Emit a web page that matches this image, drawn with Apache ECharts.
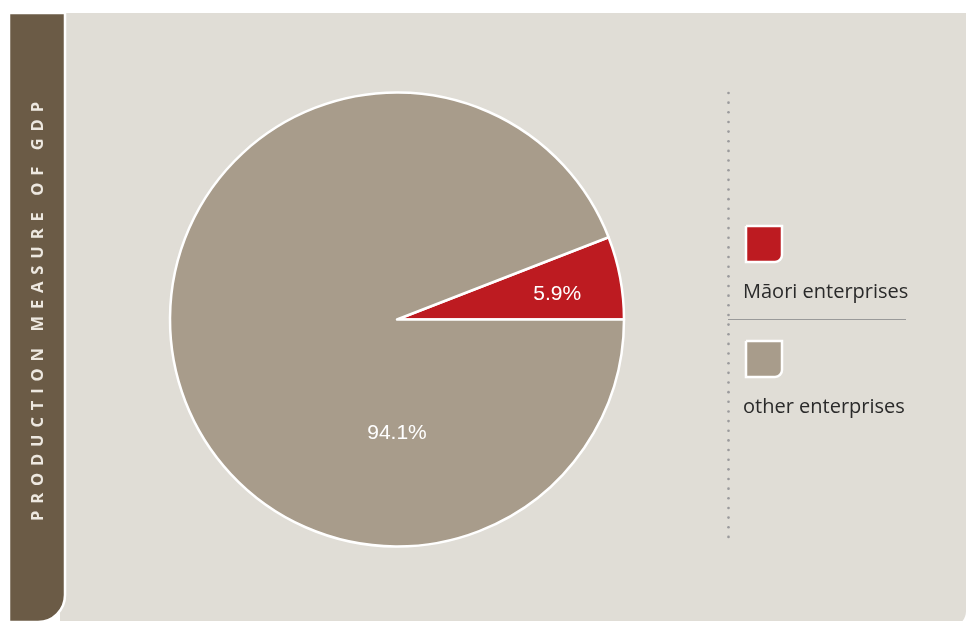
<!DOCTYPE html>
<html><head><meta charset="utf-8">
<script src="https://cdn.jsdelivr.net/npm/echarts@6/dist/echarts.min.js"></script>
<style>html,body{margin:0;padding:0;background:#fff;}#c{width:966px;height:621px;}</style>
</head><body><div id="c"></div>
<script>
// ---- data ----
const categories = ['Māori enterprises', 'other enterprises'];
const values = [5.9, 94.1];
const colors = ['#BD1B21', '#A89C8B'];
const sideTitle = 'PRODUCTION MEASURE OF GDP';

const chart = echarts.init(document.getElementById('c'), null, {renderer: 'canvas'});
const cx = 397, cy = 319.5, R = 227;
const total = values.reduce((a, b) => a + b, 0);
const fmt = v => v.toFixed(1) + '%';
const spaced = sideTitle.split(' ').map(w => w.split('').join('\u2005\u2006')).join('\u2002\u2002');

const pieData = categories.map((n, i) => ({name: n, value: values[i], itemStyle: {color: colors[i]}}));
const labelStyle = {color: '#fff', fontSize: 21, fontFamily: 'Liberation Sans, Arial, sans-serif'};

// legend graphic
const legendEls = [];
const legendTop = [226, 341];
categories.forEach((n, i) => {
  legendEls.push({type: 'rect', shape: {x: 746, y: legendTop[i], width: 36, height: 36, r: [0, 0, 7, 0]},
    style: {fill: colors[i], stroke: '#fff', lineWidth: 2.5}, z: 10});
  legendEls.push({type: 'text', x: 743, y: legendTop[i] + 66, style: {text: n, fill: '#2a2a2a', fontSize: 20,
    fontFamily: 'Open Sans, Noto Sans, sans-serif', textVerticalAlign: 'middle'}, z: 10});
});
// dotted line
const dots = [];
for (let y = 93; y <= 546; y += 9.65) {
  dots.push({type: 'circle', shape: {cx: 728.5, cy: y, r: 1.3}, style: {fill: '#9a9a9c'}, z: 5});
}

const option = {
  backgroundColor: '#ffffff',
  animation: false,
  graphic: [
    {type: 'rect', shape: {x: 60, y: 13, width: 906, height: 614, r: [0, 0, 16, 0]}, style: {fill: '#E0DDD6'}, z: 0},
    {type: 'rect', shape: {x: 9, y: 13, width: 56, height: 609, r: [0, 0, 27, 0]}, style: {fill: '#6B5B46', stroke: '#ffffff', lineWidth: 2.5}, z: 1},
    {type: 'text', x: 38, y: 311.5, rotation: Math.PI / 2, style: {text: spaced, fill: '#EDE8E0', fontSize: 16.5, fontWeight: 'bold',
      fontFamily: 'Open Sans, sans-serif', textAlign: 'center', textVerticalAlign: 'middle'}, z: 2},
    {type: 'line', shape: {x1: 728, y1: 319.5, x2: 906, y2: 319.5}, style: {stroke: '#9a9a9a', lineWidth: 1.2}, z: 5},
    ...dots,
    ...legendEls
  ],
  series: [
    {
      type: 'pie', center: [cx, cy], radius: [0, R], startAngle: 0, clockwise: false,
      silent: true, label: {show: false}, labelLine: {show: false},
      itemStyle: {borderColor: '#ffffff', borderWidth: 2.5},
      data: pieData
    },
    // label carrier for the small slice
    {
      type: 'pie', center: [cx, cy + 5], radius: [0, 320], startAngle: 0, clockwise: false, silent: true,
      itemStyle: {color: 'rgba(0,0,0,0)'}, labelLine: {show: false}, z: 3,
      label: {show: true, position: 'inside', formatter: p => p.dataIndex === 0 ? fmt(p.value) : '', ...labelStyle},
      data: categories.map((n, i) => ({name: n, value: values[i]}))
    },
    // label carrier for the large slice (centred straight below)
    {
      type: 'pie', center: [cx, cy], radius: [0, 221], startAngle: -90 + (values[1] / total) * 180, clockwise: true, silent: true,
      itemStyle: {color: 'rgba(0,0,0,0)'}, labelLine: {show: false}, z: 3,
      label: {show: true, position: 'inside', formatter: p => p.dataIndex === 0 ? fmt(p.value) : '', ...labelStyle},
      data: [{name: categories[1], value: values[1]}, {name: categories[0], value: values[0]}]
    }
  ]
};
chart.setOption(option);
</script>
</body></html>
